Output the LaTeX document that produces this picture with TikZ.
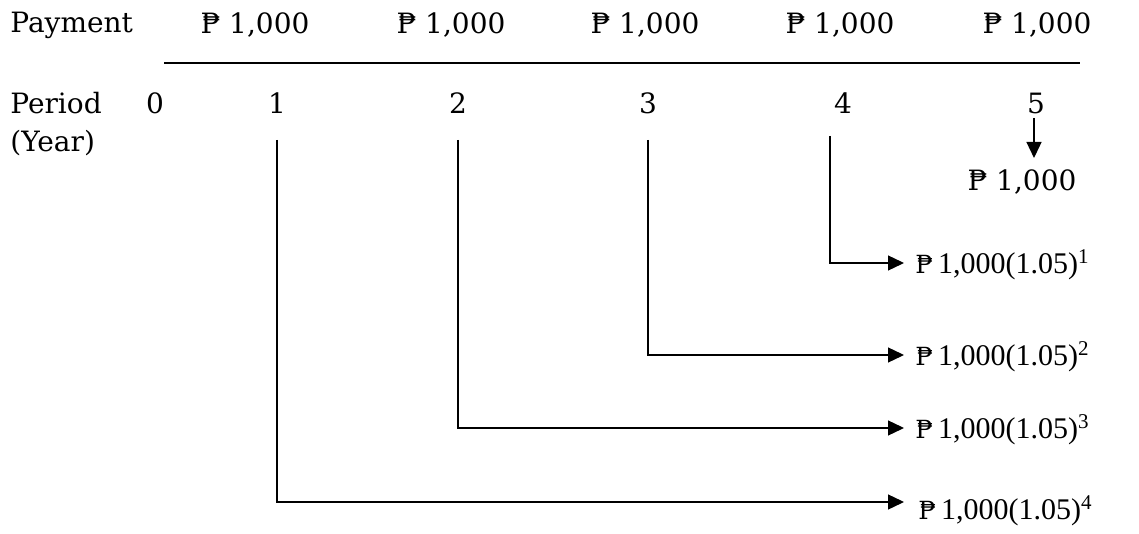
\documentclass[tikz,border=0pt]{standalone}
\usepackage{fontspec}
\setmainfont{DejaVu Serif}
\newfontfamily\formulafont{Liberation Serif}
\newfontfamily\pesofont{DejaVu Serif}
\newcommand{\peso}{{\pesofont\fontsize{12.5}{14}\selectfont ₱}}
\usetikzlibrary{arrows.meta}
\begin{document}
\begin{tikzpicture}[x=0.5pt,y=-0.5pt,
  lbl/.style={inner sep=0pt,font=\fontsize{14}{16}\selectfont},
  val/.style={inner sep=0pt,anchor=west,font=\formulafont\fontsize{15}{17}\selectfont},
  flow/.style={line width=0.65pt,-{Triangle[length=8pt,width=7.5pt]}},
  rule/.style={line width=0.65pt}]
\useasboundingbox (0,0) rectangle (1139,534);
% row labels
\node[lbl,anchor=west] (pay) at (10,25) {Payment};
\node[lbl,anchor=west] (per) at (10,103) {Period};
\node[lbl,anchor=west] (yr) at (10,143) {(Year)};
% payments
\node[lbl] (p1) at (255,25) {₱ 1,000};
\node[lbl] (p2) at (451,25) {₱ 1,000};
\node[lbl] (p3) at (645,25) {₱ 1,000};
\node[lbl] (p4) at (840,25) {₱ 1,000};
\node[lbl] (p5) at (1037,25) {₱ 1,000};
% time line
\coordinate (la) at (164,63);
\coordinate (lb) at (1080,63);
\draw[rule] (la) -- (lb);
% periods
\node[lbl] (t0) at (155,103) {0};
\node[lbl] (t1) at (277,103) {1};
\node[lbl] (t2) at (458,103) {2};
\node[lbl] (t3) at (648,103) {3};
\node[lbl] (t4) at (843,103) {4};
\node[lbl] (t5) at (1036,103) {5};
% future values
\node[lbl] (f0) at (1022,182) {₱ 1,000};
\node[val] (f1) at (915,265) {\peso\,1,000(1.05)\textsuperscript{1}};
\node[val] (f2) at (915,357) {\peso\,1,000(1.05)\textsuperscript{2}};
\node[val] (f3) at (915,430) {\peso\,1,000(1.05)\textsuperscript{3}};
\node[val] (f4) at (918,511) {\peso\,1,000(1.05)\textsuperscript{4}};
% compounding paths
\coordinate (s1) at (277,140);
\coordinate (s2) at (458,140);
\coordinate (s3) at (648,140);
\coordinate (s4) at (830,136);
\coordinate (s5) at (1034,118);
\draw[flow] (s5) -- (1034,158);
\draw[flow] (s4) |- (904,263);
\draw[flow] (s3) |- (904,355);
\draw[flow] (s2) |- (904,428);
\draw[flow] (s1) |- (904,502);
\end{tikzpicture}
\end{document}
